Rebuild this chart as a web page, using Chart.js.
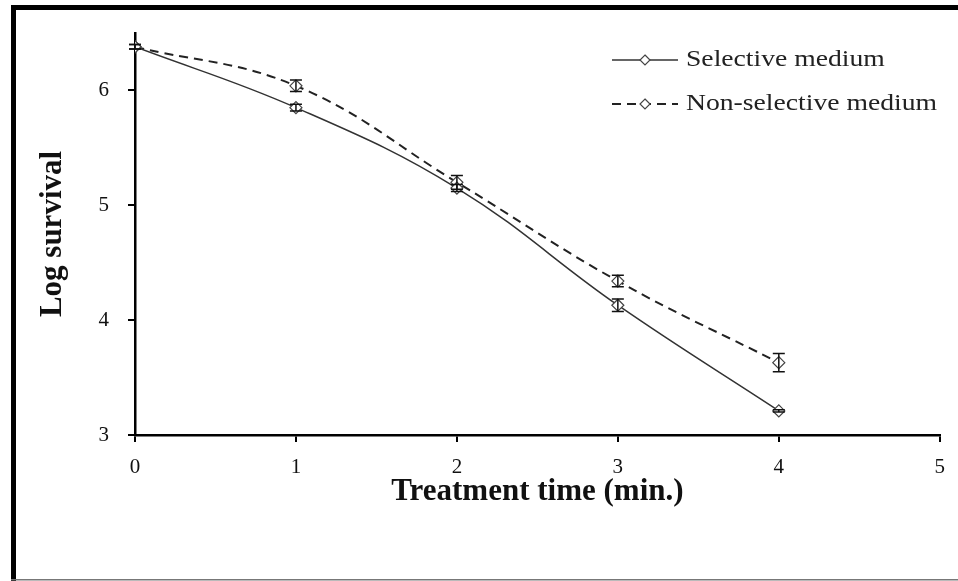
<!DOCTYPE html>
<html>
<head>
<meta charset="utf-8">
<script src="https://cdn.jsdelivr.net/npm/chart.js@4"></script>
<style>
  html, body { margin: 0; padding: 0; background: #fff; }
  #wrap { position: relative; width: 958px; height: 581px; }
</style>
</head>
<body>
<div id="wrap"><canvas id="c" width="958" height="581"></canvas></div>
<script>
// ---- data ----
const timePoints = [0, 1, 2, 3, 4];
const selective = [6.38, 5.85, 5.15, 4.13, 3.21];
const selectiveErr = [0.02, 0.03, 0.03, 0.055, 0.01];
const nonSelective = [6.38, 6.04, 5.20, 4.34, 3.63];
const nonSelectiveErr = [0.02, 0.05, 0.06, 0.05, 0.08];
const seriesLabels = ['Selective medium', 'Non-selective medium'];
const xTicks = [0, 1, 2, 3, 4, 5];
const yTicks = [3, 4, 5, 6];
const xTitle = 'Treatment time (min.)';
const yTitle = 'Log survival';

const SERIF = '"Liberation Serif", "Times New Roman", serif';

function toPoints(xs, ys) { return xs.map((x, i) => ({ x: x, y: ys[i] })); }

const errorBarPlugin = {
  id: 'errorBars',
  afterDatasetsDraw(chart) {
    const ctx = chart.ctx;
    const xs = chart.scales.x, ys = chart.scales.y;
    const errs = [selectiveErr, nonSelectiveErr];
    ctx.save();
    ctx.strokeStyle = '#111';
    ctx.lineWidth = 1.5;
    chart.data.datasets.forEach((ds, di) => {
      ds.data.forEach((p, i) => {
        const e = errs[di][i];
        const px = xs.getPixelForValue(p.x);
        const y1 = ys.getPixelForValue(p.y + e);
        const y2 = ys.getPixelForValue(p.y - e);
        const cap = 6;
        ctx.beginPath();
        ctx.moveTo(px, y1); ctx.lineTo(px, y2);
        ctx.moveTo(px - cap, y1); ctx.lineTo(px + cap, y1);
        ctx.moveTo(px - cap, y2); ctx.lineTo(px + cap, y2);
        ctx.stroke();
      });
    });
    ctx.restore();
  }
};

const framePlugin = {
  id: 'frame',
  beforeDraw(chart) {
    const ctx = chart.ctx;
    ctx.save();
    ctx.fillStyle = '#fff';
    ctx.fillRect(0, 0, chart.width, chart.height);
    ctx.fillStyle = '#000';
    ctx.fillRect(11, 5, 5, 576);      // left
    ctx.fillRect(11, 5, 947, 5);      // top
    ctx.fillStyle = '#777';
    ctx.fillRect(11, 579, 947, 1.5);  // bottom
    ctx.restore();
  }
};

const legendPlugin = {
  id: 'customLegend',
  afterDraw(chart) {
    const ctx = chart.ctx;
    const rows = [60, 104];
    ctx.save();
    ctx.font = '23px ' + SERIF;
    const longest = Math.max(...chart.data.datasets.map(d => ctx.measureText(d.label).width));
    const sx = 251 / longest;
    chart.data.datasets.forEach((ds, i) => {
      const y = rows[i];
      ctx.strokeStyle = ds.borderColor;
      ctx.lineWidth = ds.borderWidth;
      ctx.setLineDash(ds.borderDash || []);
      ctx.beginPath();
      ctx.moveTo(612, y); ctx.lineTo(678, y);
      ctx.stroke();
      ctx.setLineDash([]);
      // diamond
      const cx = 645, r = 5;
      ctx.beginPath();
      ctx.moveTo(cx, y - r); ctx.lineTo(cx + r, y); ctx.lineTo(cx, y + r); ctx.lineTo(cx - r, y); ctx.closePath();
      ctx.fillStyle = '#fff';
      ctx.fill();
      ctx.strokeStyle = ds.pointBorderColor;
      ctx.lineWidth = 1.2;
      ctx.stroke();
      ctx.fillStyle = '#222';
      ctx.textBaseline = 'middle';
      ctx.textAlign = 'left';
      ctx.save();
      ctx.translate(686, y);
      ctx.scale(sx, 1);
      ctx.fillText(ds.label, 0, 0);
      ctx.restore();
    });
    ctx.restore();
  }
};

const chart = new Chart(document.getElementById('c'), {
  type: 'line',
  data: {
    datasets: [
      {
        label: seriesLabels[0],
        data: toPoints(timePoints, selective),
        borderColor: '#333',
        borderWidth: 1.5,
        pointStyle: 'rectRot',
        pointRadius: 6,
        pointBackgroundColor: '#fff',
        pointBorderColor: '#444',
        pointBorderWidth: 1.2,
        tension: 0.4,
        fill: false
      },
      {
        label: seriesLabels[1],
        data: toPoints(timePoints, nonSelective),
        borderColor: '#222',
        borderWidth: 2,
        borderDash: [9, 6],
        pointStyle: 'rectRot',
        pointRadius: 6,
        pointBackgroundColor: '#fff',
        pointBorderColor: '#444',
        pointBorderWidth: 1.2,
        tension: 0.4,
        fill: false
      }
    ]
  },
  options: {
    responsive: false,
    animation: false,
    devicePixelRatio: 1,
    layout: { padding: { left: 0, right: 16, top: 33, bottom: 0 } },
    plugins: { legend: { display: false }, tooltip: { enabled: false } },
    scales: {
      x: {
        type: 'linear',
        min: 0, max: 5,
        afterBuildTicks(scale) { scale.ticks = xTicks.map(v => ({ value: v })); },
        afterFit(scale) { scale.height = 146; },
        ticks: {
          color: '#111',
          font: { family: SERIF, size: 21 },
          padding: 13,
          callback: v => String(v)
        },
        grid: { drawOnChartArea: false, drawTicks: true, tickLength: 7, color: '#000', lineWidth: 2 },
        border: { display: true, color: '#000', width: 2.5 },
        title: {
          display: true, text: xTitle, color: '#111',
          font: { family: SERIF, size: 31, weight: 'bold' },
          padding: { top: 0, bottom: 70 }
        }
      },
      y: {
        type: 'linear',
        min: 3, max: 6.5,
        afterBuildTicks(scale) { scale.ticks = yTicks.map(v => ({ value: v })); },
        afterFit(scale) { scale.width = 135; },
        ticks: {
          color: '#111',
          font: { family: SERIF, size: 21 },
          padding: 19,
          callback: v => String(v)
        },
        grid: { drawOnChartArea: false, drawTicks: true, tickLength: 7, color: '#000', lineWidth: 2 },
        border: { display: true, color: '#000', width: 2.5 },
        title: {
          display: true, text: yTitle, color: '#111',
          font: { family: SERIF, size: 31, weight: 'bold' },
          padding: { top: 34, bottom: 0 }
        }
      }
    }
  },
  plugins: [framePlugin, errorBarPlugin, legendPlugin]
});
</script>
</body>
</html>
